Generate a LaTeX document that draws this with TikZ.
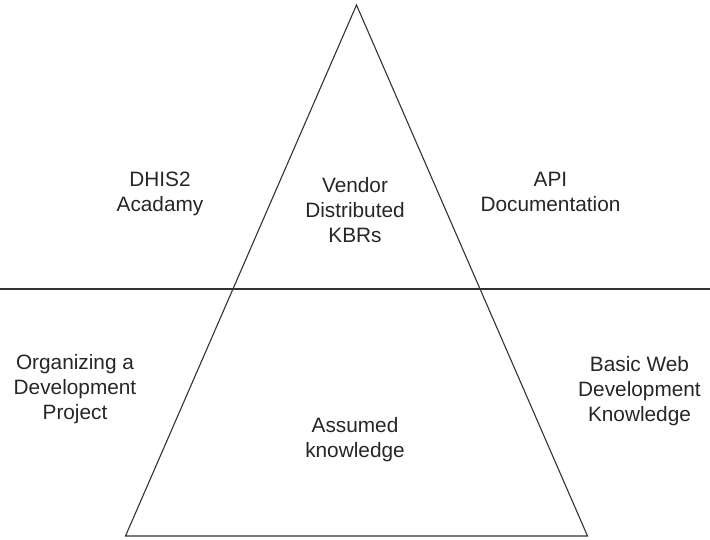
\documentclass[tikz,border=0pt]{standalone}
\usepackage{fontspec}
\setmainfont{Liberation Sans}
\begin{document}
\begin{tikzpicture}[x=1pt,y=1pt,
  lbl/.style={align=center,inner sep=0pt,font=\fontsize{20.8}{25}\selectfont,text=black!85},
  edge/.style={draw=black!80,line width=1.1pt,line join=miter}]
\useasboundingbox (0,0) rectangle (710,540);
% pyramid corners and the dividing line
\coordinate (apex) at (356.5,535);
\coordinate (bl) at (125.5,4);
\coordinate (br) at (587.5,4);
\coordinate (hl) at (0,251);
\coordinate (hr) at (710,251);
\draw[edge] (apex) -- (br) -- (bl) -- cycle;
\draw[edge] (hl) -- (hr);
% labels
\node[lbl] (academy) at (160,346.4) {DHIS2\\Acadamy};
\node[lbl] (vendor) at (355,330.4) {Vendor\\Distributed\\KBRs};
\node[lbl] (api) at (550.5,348) {API\\Documentation};
\node[lbl] (organize) at (75,150.4) {Organizing a\\Development\\Project};
\node[lbl] (assumed) at (355,100.1) {Assumed\\knowledge};
\node[lbl] (web) at (639.5,149.3) {Basic Web\\Development\\Knowledge};
\end{tikzpicture}
\end{document}
